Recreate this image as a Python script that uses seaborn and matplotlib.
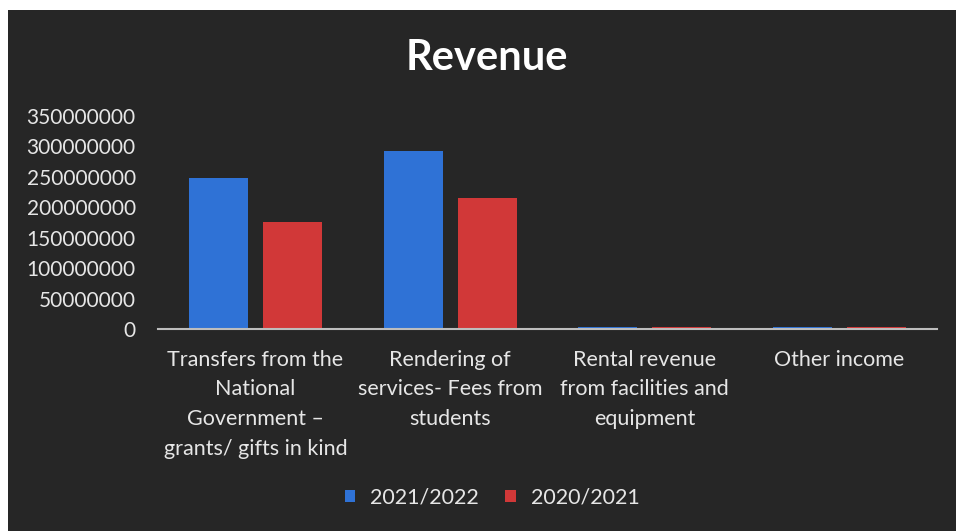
import matplotlib
matplotlib.use("Agg")
import matplotlib.pyplot as plt
import matplotlib.ticker as mticker
from matplotlib.patches import Rectangle
import seaborn as sns
import pandas as pd

categories = [
    "Transfers from the\nNational\nGovernment \u2013\ngrants/ gifts in kind",
    "Rendering of\nservices- Fees from\nstudents",
    "Rental revenue\nfrom facilities and\nequipment",
    "Other income",
]
series_names = ["2021/2022", "2020/2021"]
values_2021_2022 = [248000000, 293000000, 2500000, 3500000]
values_2020_2021 = [176000000, 216000000, 2800000, 2800000]
y_ticks = [0, 50000000, 100000000, 150000000, 200000000, 250000000, 300000000, 350000000]

df = pd.DataFrame({
    "category": categories * 2,
    "series": [series_names[0]] * 4 + [series_names[1]] * 4,
    "value": values_2021_2022 + values_2020_2021,
})

sns.set_theme(style="white")
plt.rcParams["font.family"] = ["Lato", "DejaVu Sans"]

BG = "#262626"
TXT = "#e6e6e6"
fig = plt.figure(figsize=(9.56, 5.31), dpi=100)
fig.patch.set_facecolor("white")
fig.patches.append(Rectangle((8 / 956, 0), 1, (531 - 10) / 531, transform=fig.transFigure,
                             facecolor=BG, edgecolor="none", zorder=-10))

ax = fig.add_axes([158 / 956, 1 - 329 / 531, (937 - 158) / 956, (329 - 116) / 531])
ax.set_facecolor("none")

palette = {series_names[0]: "#2f72d6", series_names[1]: "#d13838"}
sns.barplot(data=df, x="category", y="value", hue="series", hue_order=series_names,
            palette=palette, width=0.76, gap=0.2, ax=ax, legend=True,
            saturation=1, edgecolor="none")

ax.set_ylim(0, 350000000)
ax.set_xlim(-0.5, 3.5)
ax.set_yticks(y_ticks)
ax.yaxis.set_major_formatter(mticker.FuncFormatter(lambda v, p: f"{v:.0f}"))
ax.tick_params(axis="y", colors=TXT, labelsize=15, length=0, pad=16)
ax.tick_params(axis="x", colors=TXT, labelsize=15.5, length=0, pad=15)
for lab in ax.get_xticklabels():
    lab.set_linespacing(1.6)
    lab.set_verticalalignment("top")
ax.set_xlabel("")
ax.set_ylabel("")
for s in ["top", "right", "left"]:
    ax.spines[s].set_visible(False)
ax.spines["bottom"].set_color("#bdbdbd")
ax.spines["bottom"].set_linewidth(1.5)
ax.grid(False)

fig.text(487 / 956, 1 - 58 / 531, "Revenue", ha="center", va="center",
         fontsize=30, fontweight="bold", color="white")

handles, labels = ax.get_legend_handles_labels()
ax.legend_.remove()
fig.legend(handles, labels, loc="center", bbox_to_anchor=(492 / 956, 1 - 498 / 531),
           ncol=2, frameon=False, fontsize=15.5, labelcolor=TXT, handlelength=0.5,
           handleheight=0.5, handletextpad=0.7, columnspacing=1.2)

fig.savefig("out.png", dpi=100, facecolor=fig.get_facecolor())
